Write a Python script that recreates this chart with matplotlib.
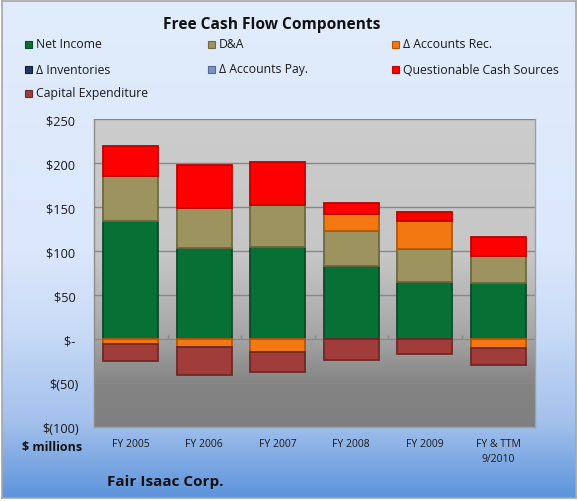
import numpy as np
import matplotlib
matplotlib.use("Agg")
import matplotlib.pyplot as plt
from matplotlib.colors import LinearSegmentedColormap, to_rgb
from matplotlib.patches import Rectangle

plt.rcParams['font.family'] = ['Open Sans', 'DejaVu Sans']

# ---------------- data ----------------
categories = ["FY 2005", "FY 2006", "FY 2007", "FY 2008", "FY 2009", "FY & TTM\n9/2010"]
series_names = ["Net Income", "D&A", "\u0394 Accounts Rec.",
                "\u0394 Inventories", "\u0394 Accounts Pay.", "Questionable Cash Sources",
                "Capital Expenditure"]
net_income = [134.5, 103.0, 104.0, 82.5, 64.5, 63.5]
d_and_a = [50.5, 45.5, 48.0, 40.0, 38.0, 30.5]
accounts_rec = [-6.0, -9.5, -15.0, 19.5, 32.0, -10.5]
inventories = [0, 0, 0, 0, 0, 0]
accounts_pay = [0, 0, 0, 0, 0, 0]
questionable = [34.0, 49.5, 49.5, 12.0, 10.0, 22.0]
capex = [-19.0, -31.0, -23.0, -23.5, -16.5, -18.5]
yticks = [-100, -50, 0, 50, 100, 150, 200, 250]
ytick_labels = ["$(100)", "$(50)", "$- ", "$50 ", "$100 ", "$150 ", "$200 ", "$250 "]

series_values = [net_income, d_and_a, accounts_rec, inventories, accounts_pay, questionable, capex]
colors = ["#077035", "#9c935e", "#f37812", "#1f3864", "#7b93c2", "#ff0000", "#a03d3b"]
edges = ["#0a4a26", "#6e6840", "#b3560a", "#111f3a", "#55698f", "#c00000", "#6e2928"]

W, H = 578, 502
fig = plt.figure(figsize=(W / 100, H / 100), dpi=100)
fig.patch.set_facecolor("white")

# background gradient
bg = fig.add_axes([0.0035, 0.006, 0.993, 0.99], zorder=-10)
bg_cmap = LinearSegmentedColormap.from_list("bg", [
    (0.0, "#e1ecfc"), (0.5, "#dbe7fb"), (0.66, "#c9dbf7"),
    (0.85, "#a3c0ec"), (1.0, "#5d94dc")])
bg.imshow(np.linspace(0, 1, 256).reshape(-1, 1), aspect="auto", cmap=bg_cmap,
          extent=[0, 1, 1, 0])
bg.set_xlim(0, 1); bg.set_ylim(1, 0)
bg.set_xticks([]); bg.set_yticks([])
for s in bg.spines.values():
    s.set_color("#a6a6a6"); s.set_linewidth(1.2)

# plot area
L, R, T, B = 94, 535, 120, 428
ax = fig.add_axes([L / W, 1 - B / H, (R - L) / W, (B - T) / H])
ymin, ymax = -100, 250
n = len(categories)
x = np.arange(n)
ax.set_xlim(-0.5, n - 0.5)
ax.set_ylim(ymin, ymax)

pa_cmap = LinearSegmentedColormap.from_list("pa", [
    (0.0, "#7f7f7f"), (0.14, "#848484"), (0.29, "#a5a5a5"),
    (0.55, "#c6c6c6"), (1.0, "#cccccc")])
ax.imshow(np.linspace(0, 1, 256).reshape(-1, 1), aspect="auto", cmap=pa_cmap,
          extent=[-0.5, n - 0.5, ymin, ymax], origin="lower", zorder=0)

for yv in yticks:
    if yv != 0:
        ax.axhline(yv, color="#878787", lw=1.0, zorder=1)
ax.axhline(0, color="#8a8a8a", lw=1.0, zorder=1)
ax.vlines(np.arange(n + 1) - 0.5, 0, 4, color="#8a8a8a", lw=1.0, zorder=1)

pos_bottom = np.zeros(n)
neg_bottom = np.zeros(n)
bw = 0.75
for vals, c, ec in zip(series_values, colors, edges):
    v = np.array(vals, dtype=float)
    bottoms = np.where(v >= 0, pos_bottom, neg_bottom)
    mask = v != 0
    ax.bar(x[mask], v[mask], bw, bottom=bottoms[mask], color=c, edgecolor=ec,
           linewidth=1.3, zorder=3)
    pos_bottom = pos_bottom + np.where(v > 0, v, 0)
    neg_bottom = neg_bottom + np.where(v < 0, v, 0)

ax.set_yticks(yticks)
ax.set_yticklabels(ytick_labels, fontsize=9.2, color="#1a1a1a")
ax.tick_params(axis="y", length=0, pad=11)
ax.set_xticks(x)
ax.set_xticklabels(categories, fontsize=7.5, color="#1a1a1a", linespacing=1.5)
ax.tick_params(axis="x", length=0, pad=8)
for side, s in ax.spines.items():
    s.set_color("#8c8c8c" if side == "left" else "#a0a0a0")
    s.set_linewidth(1.0)
ax.spines["top"].set_visible(False)

# title and texts
fig.text(272 / W, 1 - 25 / H, "Free Cash Flow Components", ha="center", va="center",
         fontsize=11.2, fontweight="bold", color="#111111")
fig.text(82 / W, 1 - 448 / H, "$ millions", ha="right", va="center",
         fontsize=9, fontweight="bold", color="#111111")
fig.text(107 / W, 1 - 482 / H, "Fair Isaac Corp.", ha="left", va="center",
         fontsize=11, fontweight="bold", color="#111111")

# legend (3 columns, row-major)
col_x = [25, 208, 392]
row_y = [45, 70, 94]
for i, (name, c, ec) in enumerate(zip(series_names, colors, edges)):
    r, k = divmod(i, 3)
    mx, my = col_x[k], row_y[r]
    fig.patches.append(Rectangle((mx / W, 1 - (my + 3.5) / H), 7 / W, 7 / H,
                                 transform=fig.transFigure, facecolor=c,
                                 edgecolor=ec, linewidth=0.8))
    fig.text((mx + 11) / W, 1 - my / H, name, ha="left", va="center",
             fontsize=8.8, color="#1a1a1a")

fig.savefig("out.png", dpi=100)
